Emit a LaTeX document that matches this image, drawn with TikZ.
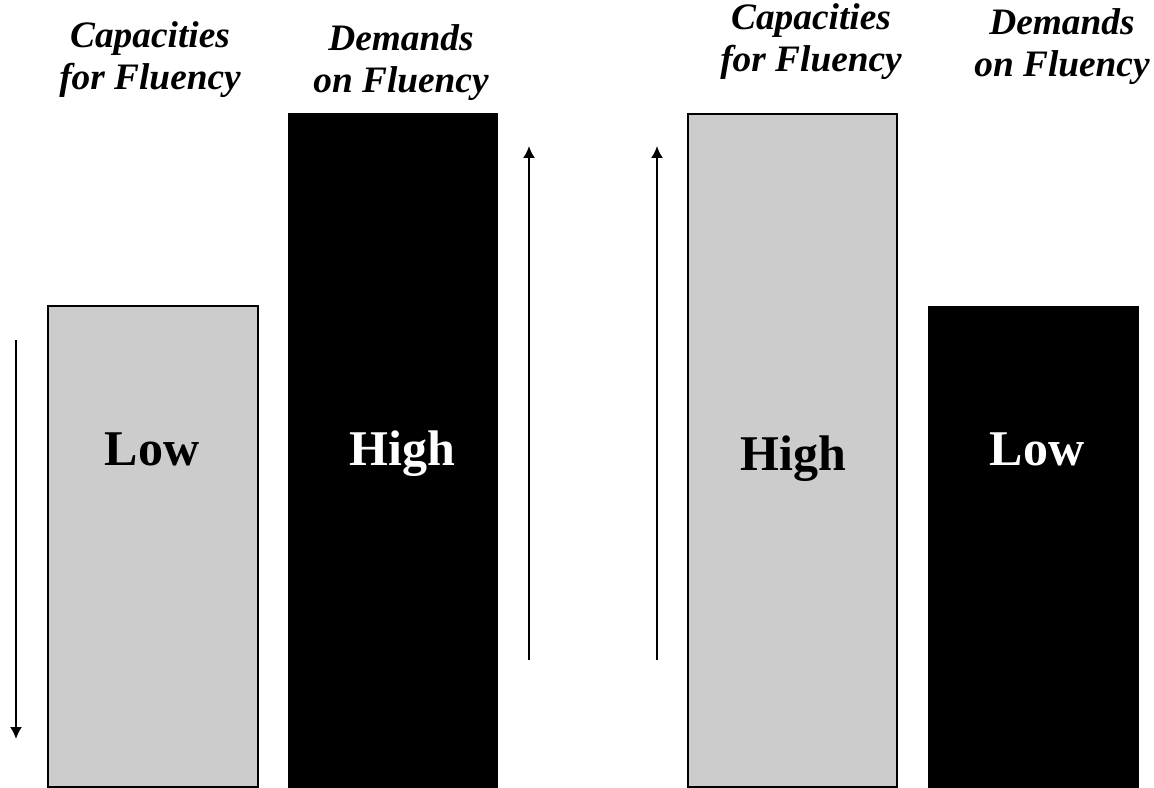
\documentclass[tikz,border=0pt]{standalone}
\usepackage{fontspec}
\setmainfont{Liberation Serif}
\usetikzlibrary{arrows.meta}
\definecolor{barGray}{RGB}{204,204,204}
\tikzset{
  capBar/.style={draw=black, line width=1.5pt, fill=barGray},
  demBar/.style={draw=black, line width=0.75pt, fill=black},
  headText/.style={%
    font=\fontsize{28}{31.5}\selectfont\bfseries\itshape,
    align=center, anchor=base, inner sep=0pt,
  },
  levelText/.style={%
    font=\fontsize{37.5}{40}\selectfont\bfseries,
    anchor=base, inner sep=0pt,
  },
  trendArrow/.style={line width=1.5pt, -{Latex[length=9pt,width=9pt]}}
}

\begin{document}
\begin{tikzpicture}[x=0.75pt, y=-0.75pt]
  \useasboundingbox (0,0) rectangle (1154,788);

  % left pair: low capacities, high demands
  \draw[capBar] (48,306) rectangle (258,787);
  \draw[demBar] (288,114) rectangle (497,788);
  % right pair: high capacities, low demands
  \draw[capBar] (688,114) rectangle (897,787);
  \draw[demBar] (928,306) rectangle (1138,788);

  % headings (base = baseline of the second line)
  \node[headText] (capLeft)  at (150,90) {Capacities\hspace{8pt}\\for Fluency};
  \node[headText] (demLeft)  at (401,93) {Demands\\on Fluency};
  \node[headText] (capRight) at (811,72) {Capacities\hspace{8pt}\\for Fluency};
  \node[headText] (demRight) at (1062,77) {Demands\\on Fluency};

  \node[levelText] (lowLeft)   at (152,465) {Low};
  \node[levelText, text=white] (highLeft)  at (402,465) {High};
  \node[levelText] (highRight) at (793,470) {High};
  \node[levelText, text=white] (lowRight)  at (1037,465) {Low};

  \coordinate (downTop) at (16,340);
  \coordinate (downEnd) at (16,739);
  \coordinate (upLeftFoot) at (529,660);
  \coordinate (upLeftTip)  at (529,146);
  \coordinate (upRightFoot) at (657,660);
  \coordinate (upRightTip)  at (657,146);

  \draw[trendArrow] (downTop) -- (downEnd);
  \draw[trendArrow] (upLeftFoot) -- (upLeftTip);
  \draw[trendArrow] (upRightFoot) -- (upRightTip);
\end{tikzpicture}
\end{document}
